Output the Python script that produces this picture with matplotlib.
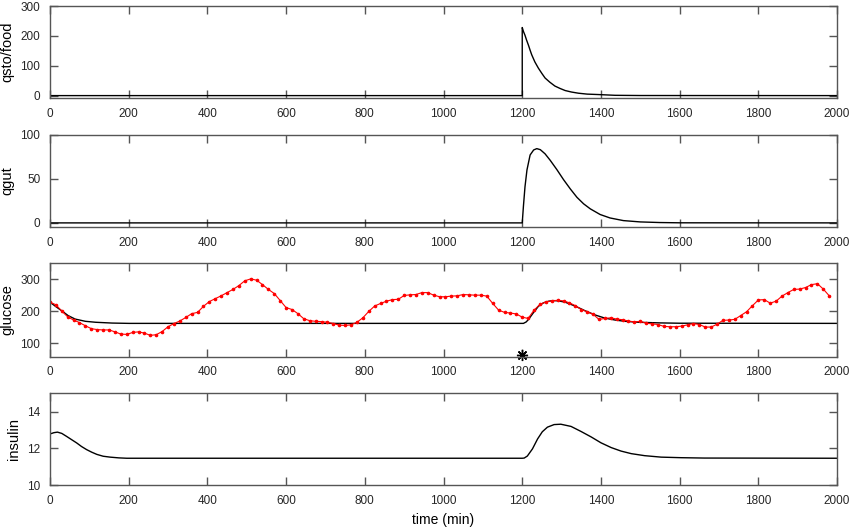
import numpy as np
import matplotlib
matplotlib.use('Agg')
from matplotlib import pyplot as plt

# measured glucose, every 15 min from t=0
glucose_obs = [228, 220, 200, 182, 172, 164, 154, 145, 142, 141, 141, 135, 128, 127, 133, 135,
               131, 124, 126, 136, 151, 161, 169, 180, 192, 196, 215, 230, 239, 248, 258, 268,
               280, 295, 301, 297, 283, 268, 255, 233, 211, 205, 192, 176, 170, 168, 167, 165,
               161, 156, 155, 157, 165, 179, 199, 216, 224, 231, 236, 237, 249, 251, 252, 258,
               258, 250, 245, 245, 247, 248, 252, 251, 250, 250, 247, 224, 203, 196, 194, 191,
               181, 177, 203, 221, 229, 232, 234, 232, 226, 217, 205, 198, 190, 174, 177, 179,
               175, 173, 169, 166, 168, 162, 160, 158, 152, 151, 151, 153, 157, 161, 158, 150,
               150, 159, 171, 172, 174, 186, 198, 217, 235, 236, 225, 231, 247, 258, 268, 269,
               274, 283, 286, 269, 248]
t_obs = 15 * np.arange(len(glucose_obs))

# model curves (time, value)
t_qsto = [0, 1200, 1200, 1203, 1207, 1211, 1216, 1220, 1224, 1232, 1241, 1250, 1258, 1270,
          1283, 1296, 1309, 1325, 1343, 1365, 1394, 1436, 1500, 2000]
qsto = [0, 0, 228, 215, 202, 186, 168, 152, 137, 113, 92, 74, 59, 45,
        32, 24, 17, 12, 8, 5, 3.5, 1, 0.3, 0]

t_qgut = [0, 1200, 1203, 1207, 1212, 1220, 1229, 1237, 1246, 1258, 1271, 1288, 1305, 1322,
          1339, 1356, 1373, 1398, 1423, 1457, 1500, 1550, 1600, 2000]
qgut = [0, 0, 18.8, 41, 60, 77, 82.7, 84.2, 83, 78.3, 71, 60.4, 49, 38.6,
        29, 21.6, 15.9, 9.5, 5.6, 2.6, 1.1, 0.4, 0.1, 0]

t_gluc = [0, 15, 31, 46, 64, 90, 116, 158, 201, 1200, 1203, 1210, 1216, 1229, 1241, 1254, 1267,
          1279, 1292, 1309, 1334, 1360, 1385, 1410, 1436, 1461, 1495, 1550, 1600, 2000]
gluc = [228, 214, 200, 186, 175, 168, 165, 162.5, 161.5, 161.5, 161.5, 166, 174, 196, 215, 226, 231,
        233, 232, 228, 216, 201, 188, 178, 172, 168, 165, 163, 162, 161.5]

t_ins = [0, 10, 19, 30, 42, 55, 68, 80, 93, 106, 119, 135, 153, 175, 195, 250, 1200, 1205, 1213,
         1226, 1239, 1251, 1264, 1281, 1298, 1324, 1349, 1375, 1400, 1426, 1451, 1477, 1511,
         1553, 1604, 1663, 2000]
ins = [12.79, 12.86, 12.89, 12.82, 12.66, 12.48, 12.30, 12.11, 11.94, 11.80, 11.68, 11.58, 11.53,
       11.49, 11.47, 11.47, 11.47, 11.48, 11.59, 11.98, 12.52, 12.91, 13.16, 13.30, 13.32, 13.20,
       12.93, 12.63, 12.31, 12.05, 11.86, 11.72, 11.61, 11.53, 11.50, 11.48, 11.47]

meal_time = 1200

plt.rcParams['font.family'] = ['Liberation Sans', 'DejaVu Sans']
plt.rcParams['text.color'] = '#262626'

fig = plt.figure(figsize=(8.5, 5.28), dpi=100)
left, width = 0.0588, 0.926
boxes = [(0.8144, 0.1742), (0.5695, 0.1754), (0.3244, 0.177), (0.0809, 0.1742)]
axes = [fig.add_axes([left, b, width, h]) for b, h in boxes]

axes[0].plot(t_qsto, qsto, c='black', lw=1)
axes[0].set_ylim(-8, 300)
axes[0].set_yticks([0, 100, 200, 300])
axes[0].set_ylabel('qsto/food')

axes[1].plot(t_qgut, qgut, c='black', lw=1)
axes[1].set_ylim(-5, 100)
axes[1].set_yticks([0, 50, 100])
axes[1].set_ylabel('qgut')

axes[2].plot(t_gluc, gluc, c='black', lw=1)
axes[2].plot(t_obs, glucose_obs, c='red', lw=0.8, marker='.', ms=3.2)
axes[2].plot([meal_time], [62], c='black', marker=(8, 2, 0), ms=8, mew=1, clip_on=False)
axes[2].set_ylim(57, 350)
axes[2].set_yticks([100, 200, 300])
axes[2].set_ylabel('glucose')

axes[3].plot(t_ins, ins, c='black', lw=1)
axes[3].set_ylim(10, 15)
axes[3].set_yticks([10, 12, 14])
axes[3].set_ylabel('insulin')
axes[3].set_xlabel('time (min)', fontsize=10, labelpad=4)

for ax in axes:
    ax.set_xlim(0, 2000)
    ax.set_xticks(range(0, 2001, 200))
    ax.tick_params(axis='both', direction='in', top=True, right=True, length=5.7,
                   width=1, color='#555555', labelsize=8.5, labelcolor='#262626', pad=7)
    ax.yaxis.label.set_size(10.5)
    for s in ax.spines.values():
        s.set_color('#555555')
        s.set_linewidth(1)

fig.savefig('out.png', dpi=100)
